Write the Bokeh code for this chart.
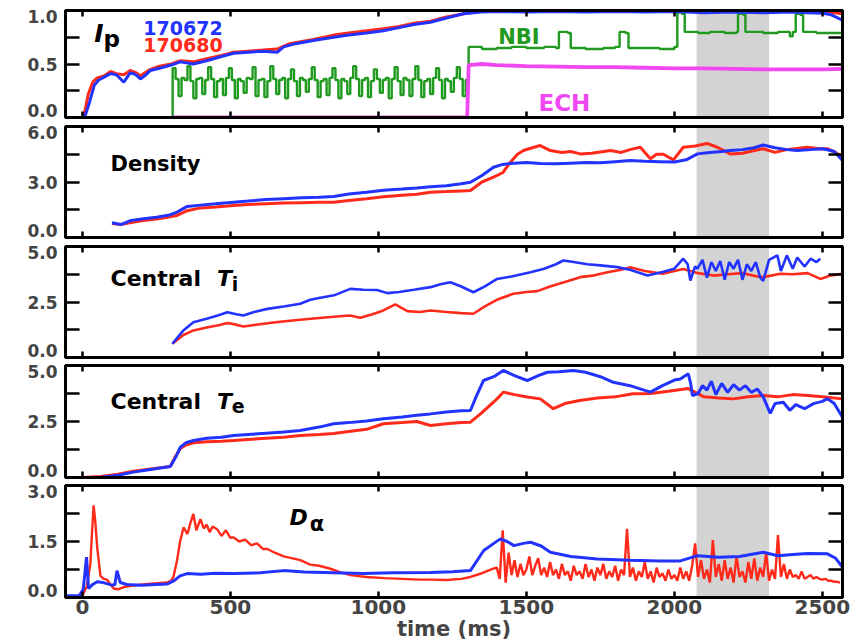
import numpy as np
from bokeh.plotting import figure
from bokeh.layouts import column
from bokeh.models import (Range1d, FixedTicker, LinearAxis, BoxAnnotation, Label,
                          CustomLabelingPolicy)
from bokeh.embed import file_html
from bokeh.resources import INLINE

# ---------------- data (time in ms) ----------------
# Panel 1: plasma current Ip (normalised) and heating powers
ip_b_t = [-57, 0, 10, 25, 40, 55, 75, 95, 115, 140, 162, 180, 196, 215, 230, 260, 300, 331, 375, 420, 470, 511,
          560, 610, 658, 680, 720, 780, 849, 900, 960, 1017, 1070, 1120, 1176, 1230, 1288, 1345, 1400, 1500, 1600,
          1700, 1800, 1900, 2000, 2100, 2200, 2300, 2400, 2450, 2503, 2530, 2568]
ip_b_v = [0.0, 0.0, 0.02, 0.15, 0.30, 0.35, 0.38, 0.41, 0.40, 0.33, 0.42, 0.40, 0.36, 0.40, 0.44, 0.46, 0.49, 0.52,
          0.50, 0.53, 0.57, 0.60, 0.61, 0.62, 0.61, 0.66, 0.69, 0.72, 0.75, 0.77, 0.79, 0.81, 0.84, 0.87, 0.89, 0.93,
          0.97, 0.985, 0.99, 0.985, 0.99, 0.985, 0.99, 0.985, 0.99, 0.98, 0.985, 0.98, 0.985, 0.98, 0.975, 0.96, 0.91]
ip_r_t = [-57, 0, 8, 20, 35, 50, 75, 95, 115, 140, 162, 180, 196, 230, 260, 300, 331, 375, 420, 470, 511, 560, 610,
          658, 700, 780, 849, 900, 960, 1017, 1070, 1120, 1176, 1230, 1288, 1345, 1400, 1500, 1600, 1700, 1800, 1900,
          2000, 2100, 2200, 2300, 2400, 2503, 2540, 2568]
ip_r_v = [0.0, 0.0, 0.05, 0.22, 0.33, 0.37, 0.39, 0.43, 0.41, 0.40, 0.44, 0.42, 0.39, 0.45, 0.48, 0.50, 0.53, 0.52,
          0.55, 0.58, 0.61, 0.62, 0.63, 0.64, 0.69, 0.73, 0.77, 0.79, 0.81, 0.83, 0.85, 0.88, 0.90, 0.94, 0.97, 0.99,
          1.0, 0.99, 1.0, 0.99, 1.0, 0.99, 1.0, 0.99, 1.0, 0.99, 1.0, 0.99, 0.98, 0.97]

nbi_t0 = [0, 305]
nbi_v0 = [0.0, 0.0]
nbi_mod = [0.46, 0.36, 0.20, 0.37, 0.35, 0.48, 0.34, 0.18, 0.36, 0.37, 0.22, 0.35, 0.47, 0.36, 0.19, 0.34, 0.36,
           0.21, 0.37, 0.46, 0.35, 0.18, 0.36, 0.34, 0.23, 0.37, 0.36, 0.47, 0.20, 0.35, 0.36, 0.19, 0.34, 0.48,
           0.36, 0.22, 0.35, 0.37, 0.18, 0.36, 0.45, 0.34, 0.20, 0.37, 0.35, 0.24, 0.36, 0.47, 0.35, 0.19, 0.34,
           0.36, 0.21, 0.37, 0.46, 0.35, 0.18, 0.36, 0.34, 0.22, 0.37, 0.48, 0.36, 0.20, 0.35, 0.37, 0.19, 0.34,
           0.45, 0.36, 0.23, 0.35, 0.37, 0.18, 0.36, 0.47, 0.34, 0.21, 0.37, 0.35, 0.20, 0.36, 0.48, 0.35, 0.19,
           0.34, 0.36, 0.22, 0.37, 0.46, 0.35, 0.18, 0.36, 0.34, 0.24, 0.37, 0.47, 0.36, 0.20, 0.35]
nbi_t2 = [1305, 1350, 1400, 1450, 1500, 1560, 1600, 1610, 1640, 1650, 1700, 1760, 1800, 1815, 1835, 1845, 1900,
          1950, 2000, 2010, 2025, 2035, 2080, 2120, 2170, 2210, 2215, 2232, 2240, 2300, 2350, 2390, 2400, 2410, 2425,
          2435, 2480, 2530, 2568]
nbi_v2 = [0.66, 0.64, 0.65, 0.66, 0.65, 0.66, 0.65, 0.80, 0.79, 0.65, 0.64, 0.65, 0.66, 0.80, 0.79, 0.65, 0.65,
          0.64, 0.66, 0.98, 0.97, 0.80, 0.79, 0.80, 0.79, 0.80, 0.97, 0.96, 0.80, 0.79, 0.80, 0.76, 0.80, 0.97, 0.96,
          0.80, 0.79, 0.79, 0.78]

ech_t = [300, 1300, 1305, 1350, 1400, 1500, 1600, 1700, 1800, 1900, 2000, 2100, 2200, 2300, 2400, 2500, 2568]
ech_v = [0.0, 0.0, 0.49, 0.50, 0.49, 0.48, 0.475, 0.47, 0.47, 0.465, 0.46, 0.46, 0.455, 0.45, 0.45, 0.45, 0.455]

# Panel 2: density
dn_b_t = [100, 130, 160, 200, 250, 290, 320, 354, 400, 450, 511, 560, 620, 680, 740, 800, 849, 900, 960, 1017, 1080,
          1130, 1176, 1230, 1280, 1311, 1350, 1389, 1420, 1446, 1500, 1547, 1600, 1650, 1700, 1750, 1800, 1851, 1900,
          1950, 2000, 2040, 2078, 2120, 2160, 2189, 2230, 2270, 2300, 2340, 2380, 2415, 2460, 2503, 2540, 2568]
dn_b_v = [0.8, 0.7, 0.9, 1.0, 1.1, 1.2, 1.37, 1.68, 1.75, 1.82, 1.91, 1.97, 2.05, 2.1, 2.15, 2.18, 2.22, 2.35, 2.45,
          2.55, 2.62, 2.68, 2.74, 2.8, 2.9, 2.99, 3.35, 3.8, 3.95, 4.0, 4.05, 4.0, 3.98, 4.02, 4.05, 4.04, 4.1, 4.16,
          4.12, 4.1, 4.08, 4.2, 4.52, 4.6, 4.65, 4.7, 4.75, 4.85, 5.0, 4.85, 4.75, 4.7, 4.75, 4.8, 4.65, 4.16]
dn_r_t = [100, 130, 160, 200, 250, 290, 320, 354, 400, 450, 511, 560, 620, 680, 740, 800, 849, 900, 960, 1017, 1080,
          1130, 1176, 1230, 1280, 1311, 1350, 1389, 1420, 1446, 1470, 1490, 1520, 1547, 1581, 1620, 1650, 1682, 1720,
          1750, 1784, 1820, 1850, 1885, 1919, 1940, 1963, 1985, 1997, 2030, 2070, 2111, 2145, 2189, 2230, 2270, 2300,
          2340, 2380, 2420, 2449, 2490, 2517, 2545, 2568]
dn_r_v = [0.75, 0.7, 0.8, 0.9, 1.0, 1.1, 1.19, 1.45, 1.6, 1.65, 1.73, 1.78, 1.82, 1.86, 1.88, 1.9, 1.91, 2.0, 2.1,
          2.2, 2.28, 2.34, 2.45, 2.48, 2.52, 2.54, 3.0, 3.26, 3.5, 4.07, 4.5, 4.7, 4.85, 4.97, 4.7, 4.6, 4.65, 4.52,
          4.55, 4.62, 4.7, 4.6, 4.75, 4.88, 4.26, 4.5, 4.5, 4.3, 4.2, 4.88, 4.95, 5.08, 4.88, 4.52, 4.55, 4.7, 4.8,
          4.6, 4.75, 4.82, 4.88, 4.8, 4.8, 4.6, 4.3]

# Panel 3: central Ti
ti_b_t = [304, 340, 375, 420, 460, 490, 520, 544, 580, 625, 680, 736, 770, 804, 850, 905, 950, 996, 1030, 1070, 1120,
          1176, 1210, 1243, 1280, 1321, 1360, 1401, 1450, 1514, 1560, 1600, 1625, 1660, 1706, 1750, 1807, 1850, 1909,
          1960, 2000, 2030, 2045, 2054, 2070, 2078, 2095, 2110, 2125, 2140, 2155, 2170, 2185, 2200, 2215, 2230, 2245,
          2260, 2275, 2290, 2300, 2320, 2348, 2360, 2380, 2400, 2415, 2440, 2460, 2480, 2493]
ti_b_v = [0.62, 1.2, 1.59, 1.75, 1.9, 2.04, 1.95, 1.89, 2.05, 2.19, 2.3, 2.42, 2.6, 2.69, 2.8, 3.09, 3.05, 3.04, 2.9,
          2.95, 3.05, 3.17, 3.3, 3.39, 3.2, 2.94, 3.2, 3.54, 3.65, 3.84, 4.0, 4.2, 4.37, 4.3, 4.2, 4.15, 4.07, 3.95,
          3.69, 3.85, 4.0, 4.45, 4.2, 3.47, 4.1, 4.0, 4.4, 3.6, 4.3, 3.9, 4.35, 3.5, 4.3, 4.0, 4.4, 3.5, 4.2, 3.9,
          4.3, 3.6, 3.45, 4.4, 4.6, 3.9, 4.6, 4.0, 4.5, 4.1, 4.45, 4.3, 4.45]
ti_r_t = [304, 340, 375, 420, 460, 490, 520, 544, 600, 660, 736, 800, 860, 905, 939, 980, 1017, 1057, 1098, 1140,
          1176, 1230, 1280, 1321, 1360, 1400, 1456, 1500, 1537, 1580, 1630, 1682, 1730, 1774, 1820, 1851, 1900, 1960,
          2030, 2080, 2132, 2180, 2230, 2280, 2300, 2358, 2400, 2450, 2493, 2530, 2568]
ti_r_v = [0.62, 1.0, 1.22, 1.35, 1.45, 1.55, 1.48, 1.4, 1.5, 1.6, 1.7, 1.78, 1.85, 1.89, 1.79, 1.95, 2.12, 2.39, 2.09,
          2.05, 2.12, 2.05, 2.0, 1.97, 2.3, 2.6, 2.87, 2.95, 2.99, 3.2, 3.4, 3.62, 3.7, 3.84, 3.95, 4.07, 3.9, 3.77,
          3.99, 3.8, 3.69, 3.75, 3.8, 3.65, 3.62, 3.77, 3.75, 3.8, 3.54, 3.7, 3.77]

# Panel 4: central Te
te_b_t = [-57, 0, 61, 120, 172, 230, 297, 315, 331, 350, 375, 420, 470, 511, 560, 620, 680, 736, 800, 849, 900, 960,
          1017, 1080, 1130, 1176, 1230, 1280, 1311, 1330, 1355, 1390, 1422, 1460, 1503, 1540, 1571, 1610, 1659, 1700,
          1750, 1794, 1850, 1919, 1960, 2000, 2020, 2047, 2055, 2061, 2080, 2095, 2110, 2125, 2140, 2160, 2180, 2200,
          2220, 2240, 2260, 2280, 2300, 2324, 2340, 2368, 2390, 2410, 2440, 2470, 2500, 2517, 2540, 2568]
te_b_v = [0.0, 0.0, 0.0, 0.1, 0.24, 0.36, 0.49, 0.9, 1.35, 1.55, 1.65, 1.75, 1.8, 1.87, 1.92, 1.98, 2.03, 2.1, 2.25,
          2.4, 2.45, 2.52, 2.62, 2.7, 2.78, 2.84, 2.92, 2.98, 2.99, 3.6, 4.33, 4.5, 4.78, 4.55, 4.33, 4.55, 4.7, 4.72,
          4.78, 4.7, 4.5, 4.25, 4.1, 3.81, 4.1, 4.35, 4.4, 4.63, 4.2, 3.66, 3.75, 4.1, 3.9, 4.3, 3.7, 4.2, 3.8, 4.15,
          3.9, 4.1, 3.8, 3.95, 3.6, 2.86, 3.3, 3.36, 3.0, 3.25, 3.07, 3.3, 3.4, 3.52, 3.3, 2.69]
te_r_t = [-57, 0, 61, 120, 172, 230, 297, 315, 331, 350, 375, 420, 470, 511, 560, 620, 680, 736, 800, 849, 900, 960,
          1017, 1080, 1130, 1176, 1230, 1280, 1311, 1350, 1400, 1422, 1460, 1503, 1547, 1591, 1630, 1680, 1740, 1800,
          1860, 1920, 1980, 2047, 2100, 2150, 2200, 2250, 2300, 2350, 2400, 2450, 2500, 2568]
te_r_v = [0.0, 0.0, 0.05, 0.15, 0.28, 0.38, 0.49, 0.95, 1.3, 1.45, 1.55, 1.6, 1.62, 1.65, 1.7, 1.75, 1.8, 1.87, 1.92,
          1.96, 2.05, 2.15, 2.4, 2.45, 2.5, 2.32, 2.4, 2.45, 2.47, 2.9, 3.5, 3.81, 3.7, 3.59, 3.51, 3.07, 3.3, 3.44,
          3.55, 3.6, 3.74, 3.75, 3.85, 3.97, 3.6, 3.55, 3.51, 3.6, 3.66, 3.6, 3.7, 3.66, 3.6, 3.51]

# Panel 5: D-alpha
da_b_t = [-57, -10, 3, 14, 21, 35, 50, 70, 100, 110, 117, 128, 150, 200, 250, 286, 310, 330, 354, 400, 450, 511, 600,
          680, 750, 849, 950, 1050, 1176, 1250, 1311, 1356, 1390, 1412, 1435, 1458, 1490, 1514, 1550, 1581, 1650,
          1740, 1850, 1950, 2020, 2078, 2150, 2220, 2300, 2350, 2400, 2450, 2517, 2545, 2568]
da_b_v = [0.05, 0.05, 0.22, 1.08, 0.24, 0.35, 0.42, 0.40, 0.33, 0.35, 0.72, 0.40, 0.35, 0.33, 0.35, 0.36, 0.45, 0.58,
          0.64, 0.62, 0.65, 0.64, 0.66, 0.72, 0.68, 0.66, 0.64, 0.66, 0.67, 0.69, 0.72, 1.26, 1.45, 1.57, 1.5, 1.39,
          1.45, 1.48, 1.38, 1.21, 1.1, 1.03, 1.0, 0.98, 0.98, 1.12, 1.08, 1.1, 1.21, 1.12, 1.15, 1.18, 1.17, 1.05, 0.81]
da_r_t = [-57, -5, 0, 15, 27, 33, 38, 44, 50, 61, 72, 83, 95, 106, 120, 140, 172, 220, 286, 300, 308, 320, 330, 342,
          355, 365, 375, 385, 399, 410, 420, 430, 440, 455, 470, 485, 500, 511, 530, 550, 570, 590, 610, 625, 650,
          680, 710, 736, 770, 800, 838, 870, 905, 960, 1020, 1080, 1140, 1176, 1230, 1280, 1311, 1350, 1390]
da_r_v = [0.0, 0.0, 0.05, 0.3, 0.9, 1.8, 2.47, 2.0, 1.35, 0.58, 0.5, 0.48, 0.35, 0.24, 0.22, 0.28, 0.32, 0.36, 0.40,
          0.45, 0.56, 1.0, 1.5, 1.88, 1.7, 2.0, 2.24, 1.8, 2.1, 1.85, 1.95, 1.75, 1.9, 1.83, 1.65, 1.8, 1.6, 1.61,
          1.5, 1.55, 1.4, 1.45, 1.3, 1.3, 1.2, 1.1, 1.05, 1.0, 0.88, 0.85, 0.77, 0.68, 0.6, 0.55, 0.52, 0.5, 0.48,
          0.48, 0.47, 0.5, 0.55, 0.65, 0.78]
da_r_noisy = [0.8, 0.5, 1.8, 0.4, 1.2, 0.6, 1.0, 0.55, 0.9, 0.6, 0.75, 1.1, 0.6, 0.85, 1.05, 0.6, 0.8, 0.55, 0.95,
              0.6, 0.75, 0.5, 0.9, 0.6, 0.7, 0.45, 0.85, 0.6, 0.7, 0.5, 0.9, 0.55, 0.75, 0.45, 0.8, 0.6, 0.9, 0.5,
              0.7, 0.55, 0.85, 0.45, 0.75, 0.6, 1.84, 0.55, 0.8, 0.45, 0.7, 0.55, 0.95, 0.5, 0.7, 0.4, 0.8, 0.55,
              0.65, 0.45, 0.75, 0.5, 0.6, 0.45, 0.8, 0.5, 0.7, 0.45, 0.85, 1.45, 0.55, 1.0, 0.5, 0.75, 0.4, 1.54,
              0.55, 0.9, 0.45, 1.0, 0.5, 0.8, 0.4, 1.1, 0.55, 0.7, 0.4, 0.95, 0.5, 1.05, 0.45, 0.8, 0.55, 1.2, 0.45,
              0.75, 0.5, 1.67, 0.55, 0.9, 0.5, 0.75, 0.55, 0.6, 0.5, 0.7, 0.5, 0.55, 0.6, 0.5, 0.55, 0.5, 0.48, 0.5,
              0.45, 0.45, 0.42, 0.42, 0.4]

# shaded analysis window
band_start, band_end = 2075, 2320

# tick labels per panel (bottom, middle, top)
yt_ip = ["0.0", "0.5", "1.0"]
yt_dens = ["0.0", "3.0", "6.0"]
yt_ti = ["0.0", "2.5", "5.0"]
yt_te = ["0.0", "2.5", "5.0"]
yt_da = ["0.0", "1.5", "3.0"]

# ---------------- styling ----------------
BLUE = "#2233ff"
RED = "#ff2a1a"
GREEN = "#1f9a1f"
MAGENTA = "#f048f0"
FONT = "DejaVu Sans"
LW = 3.0

XMIN, XMAX = -57, 2568
x_range = Range1d(XMIN, XMAX)
XTICKS = [0, 500, 1000, 1500, 2000, 2500]

NO_LABELS = "const all = [...indices]; for (const i of all) indices.unset(i); return indices"


def panel(height, top, bottom, yr, ymajor, yminor, ylabels, show_x=False):
    p = figure(width=860, height=height, x_range=x_range, y_range=Range1d(*yr),
               output_backend="svg", toolbar_location=None,
               min_border_left=65, min_border_right=18, min_border_top=top, min_border_bottom=bottom)
    p.grid.visible = False
    p.outline_line_color = "black"
    p.outline_line_width = 3

    yl = p.yaxis[0]
    yl.ticker = FixedTicker(ticks=ymajor, minor_ticks=yminor)
    yr_ax = LinearAxis(ticker=FixedTicker(ticks=ymajor, minor_ticks=yminor))
    p.add_layout(yr_ax, "right")
    xb = p.xaxis[0]
    xb.ticker = FixedTicker(ticks=XTICKS, minor_ticks=[])
    xt = LinearAxis(ticker=FixedTicker(ticks=XTICKS, minor_ticks=[]))
    p.add_layout(xt, "above")

    for ax in (yl, yr_ax):
        ax.major_tick_in = 14
        ax.minor_tick_in = 14
        ax.minor_tick_out = 0
        ax.minor_tick_line_width = 2.5
    for ax in (xb, xt):
        ax.major_tick_in = 6
    for ax in (yl, yr_ax, xb, xt):
        ax.axis_line_width = 3
        ax.major_tick_out = 0
        ax.major_tick_line_width = 2.5
        ax.major_label_text_font = FONT
        ax.major_label_text_font_style = "bold"
        ax.major_label_text_font_size = "0px"
        ax.major_label_standoff = 0
        ax.major_label_policy = CustomLabelingPolicy(code=NO_LABELS)

    # tick labels on an outer, mark-less axis; the end labels sit a few pixels
    # inside the panel, as in the original figure
    frame_h = height - top - bottom
    lo, hi = yr
    d_bot = 7.0 / frame_h * (hi - lo)
    d_top = 6.0 / frame_h * (hi - lo)
    lpos = [ymajor[0] + d_bot, ymajor[1], ymajor[2] - d_top]
    lab_ax = LinearAxis(ticker=FixedTicker(ticks=lpos, minor_ticks=[]))
    lab_ax.major_label_overrides = {pos: txt for pos, txt in zip(lpos, ylabels)}
    lab_ax.axis_line_color = None
    lab_ax.major_tick_line_color = None
    lab_ax.minor_tick_line_color = None
    lab_ax.major_tick_in = 0
    lab_ax.major_tick_out = 0
    lab_ax.major_label_standoff = 8
    lab_ax.major_label_text_font = FONT
    lab_ax.major_label_text_font_style = "bold"
    lab_ax.major_label_text_font_size = "17px"
    p.add_layout(lab_ax, "left")

    if show_x:
        xb.major_label_policy = CustomLabelingPolicy(code="return indices")
        xb.major_label_text_font_size = "20px"
        xb.major_label_standoff = 2
        xb.axis_label = "time (ms)"
        xb.axis_label_text_font = FONT
        xb.axis_label_text_font_style = "bold"
        xb.axis_label_text_font_size = "21px"
        xb.axis_label_standoff = 0

    p.add_layout(BoxAnnotation(left=band_start, right=band_end, fill_color="#d3d3d3", fill_alpha=1.0,
                               line_color=None, level="underlay"))
    return p


def label(p, x, y, text, size, color="black", style="bold"):
    p.add_layout(Label(x=x, y=y, text=text, text_font=FONT, text_font_style=style,
                       text_font_size=size, text_color=color, text_baseline="alphabetic",
                       text_align="left"))


# Panel 1
p1 = panel(121, 10, 4, (0, 1.0), [0, 0.5, 1.0], [0.25, 0.75], yt_ip)
nbi_t = nbi_t0 + list(305 + 10 * np.arange(len(nbi_mod))) + nbi_t2
nbi_v = nbi_v0 + nbi_mod + nbi_v2
p1.step(nbi_t, nbi_v, mode="after", line_color=GREEN, line_width=2.4)
p1.line(ech_t, ech_v, line_color=MAGENTA, line_width=3.8)
p1.line(ip_r_t, ip_r_v, line_color=RED, line_width=LW)
p1.line(ip_b_t, ip_b_v, line_color=BLUE, line_width=LW)
label(p1, 40, 0.785, "I", "25px", style="bold italic")
label(p1, 71, 0.738, "p", "23px")
label(p1, 206, 0.84, "170672", "19px", BLUE)
label(p1, 206, 0.673, "170680", "19px", RED)
label(p1, 1405, 0.748, "NBI", "21px", GREEN)
label(p1, 1541, 0.131, "ECH", "23px", MAGENTA)

# Panel 2
p2 = panel(120, 5, 4, (0, 6.0), [0, 3.0, 6.0], [1.5, 4.5], yt_dens)
p2.line(dn_r_t, dn_r_v, line_color=RED, line_width=LW)
p2.line(dn_b_t, dn_b_v, line_color=BLUE, line_width=LW)
label(p2, 95, 3.95, "Density", "21px")

# Panel 3
p3 = panel(120, 5, 4, (0, 5.0), [0, 2.5, 5.0], [1.25, 3.75], yt_ti)
p3.line(ti_r_t, ti_r_v, line_color=RED, line_width=2.6)
p3.line(ti_b_t, ti_b_v, line_color=BLUE, line_width=2.6)
label(p3, 95, 3.56, "Central", "22px")
label(p3, 455, 3.56, "T", "22px", style="bold italic")
label(p3, 505, 3.33, "i", "19px")

# Panel 4
p4 = panel(120, 4, 4, (0, 5.0), [0, 2.5, 5.0], [1.25, 3.75], yt_te)
p4.line(te_r_t, te_r_v, line_color=RED, line_width=LW)
p4.line(te_b_t, te_b_v, line_color=BLUE, line_width=LW)
label(p4, 95, 3.39, "Central", "22px")
label(p4, 455, 3.39, "T", "22px", style="bold italic")
label(p4, 505, 3.21, "e", "19px")

# Panel 5
p5 = panel(163, 4, 47, (0, 3.0), [0, 1.5, 3.0], [0.75, 2.25], yt_da, show_x=True)
da_r_all_t = da_r_t + list(1400 + 10 * np.arange(len(da_r_noisy)))
da_r_all_v = da_r_v + da_r_noisy
p5.line(da_r_all_t, da_r_all_v, line_color=RED, line_width=2.4)
p5.line(da_b_t, da_b_v, line_color=BLUE, line_width=LW)
label(p5, 700, 2.14, "D", "22px", style="bold italic")
label(p5, 768, 1.98, "α", "21px")

layout = column(p1, p2, p3, p4, p5, spacing=0)
open("out.html", "w").write(file_html(layout, INLINE))
